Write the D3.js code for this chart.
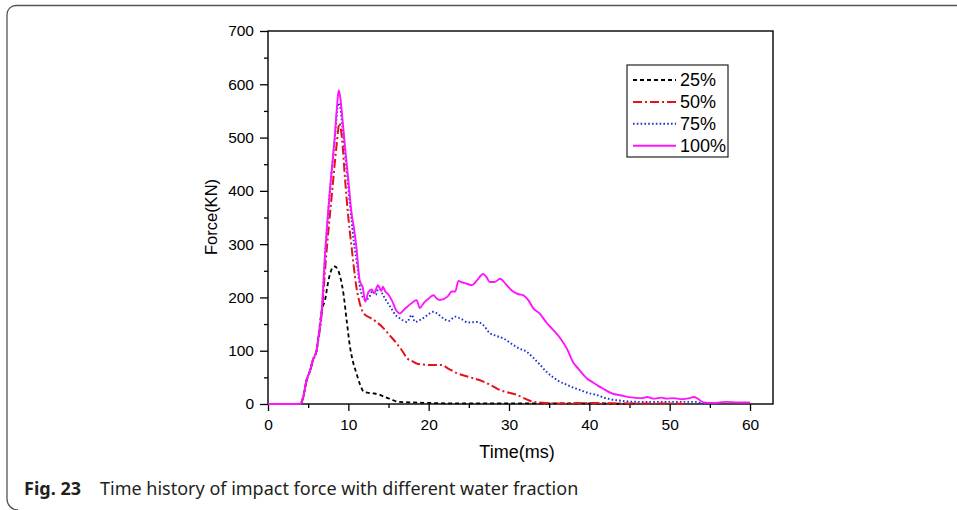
<!DOCTYPE html>
<html>
<head>
<meta charset="utf-8">
<script src="https://cdn.jsdelivr.net/npm/d3@7/dist/d3.min.js"></script>
<style>
  body { margin: 0; background: #fff; }
  svg { display: block; }
</style>
</head>
<body>
<div id="chart"></div>
<script>
// tick labels
var xTicks = [0, 10, 20, 30, 40, 50, 60];
var xMinor = [5, 15, 25, 35, 45, 55];
var yTicks = [0, 100, 200, 300, 400, 500, 600, 700];
var yMinor = [50, 150, 250, 350, 450, 550, 650];

var seriesNames = ["25%", "50%", "75%", "100%"];

// [time ms, force kN]
var s25 = [[0,0],[4.0,0],[4.4,14],[4.8,45],[5.2,61],[5.6,83],[6.05,101],[6.3,130],[6.7,176],[7.1,195],
  [7.5,230],[7.8,248],[8.1,257],[8.3,258],[8.7,252],[9.0,238],[9.4,206],[9.8,156],[10.2,108],[10.6,78],
  [11.0,58],[11.5,35],[11.9,23],[12.5,21],[13.1,20],[13.8,18],[14.4,14],[15.3,9],[16.2,4],[18,3],
  [20,2],[25,1],[30,1],[40,1],[46,0.5]];

var s50 = [[0,0],[4.0,0],[4.4,13],[4.8,43],[5.2,60],[5.6,82],[6.05,100],[6.3,124],[6.7,172],[7.2,270],
  [8.0,401],[8.5,480],[8.9,527],[9.2,500],[9.6,420],[10.0,350],[10.4,295],[11.0,220],[11.5,185],[11.9,170],
  [12.7,162],[13.5,154],[14.4,142],[15.2,128],[16.0,114],[16.7,100],[17.3,86],[18.0,80],[18.5,76],[19.3,74],
  [20.2,73],[21.6,73],[22.5,66],[23.5,58],[25.2,50],[26.8,42],[27.9,34],[28.9,26],[30.0,21],[31.0,17],
  [32.0,10],[33.0,4],[34.5,2],[36,1],[40,2],[45,1],[50,1],[52,0]];

var s75 = [[0,0],[4.0,0],[4.4,14],[4.8,45],[5.2,61],[5.6,83],[6.05,101],[6.3,126],[6.7,176],[7.1,278],
  [7.7,398],[8.3,495],[8.7,560],[8.9,565],[9.2,530],[9.6,470],[10.0,405],[10.4,345],[10.7,302],[11.1,262],
  [11.5,215],[12.1,195],[12.6,200],[13.0,212],[13.4,205],[13.8,220],[14.3,205],[15.2,183],[16.0,165],[16.4,161],
  [17.3,154],[17.9,167],[18.3,154],[19.3,161],[20.6,173],[21.2,168],[21.8,161],[22.5,156],[23.3,164],[24.0,160],
  [24.9,153],[26.0,154],[26.8,148],[27.6,133],[28.4,128],[29.3,123],[30.5,111],[31.3,104],[32.2,98],[33.0,87],
  [33.9,73],[34.7,60],[35.5,50],[36.3,42],[37.2,36],[38.1,30],[38.9,26],[39.8,21],[40.9,17],[41.8,12],
  [42.6,9],[44,6],[46.3,4],[50,4],[53.4,4],[54,1],[55,0.5]];

var s100 = [[0,0],[4.0,0],[4.4,14],[4.8,45],[5.2,61],[5.6,83],[6.05,101],[6.3,128],[6.7,178],[7.1,280],
  [7.7,400],[8.3,500],[8.6,560],[8.8,589],[9.0,575],[9.2,546],[9.6,480],[10.0,420],[10.4,358],[10.7,330],
  [11.0,295],[11.4,233],[11.8,218],[12.1,192],[12.5,210],[12.9,215],[13.2,208],[13.7,223],[14.1,212],[14.3,220],
  [14.6,211],[15.0,205],[15.4,195],[16.0,175],[16.4,170],[17.0,178],[17.6,186],[18.1,192],[18.5,195],[18.9,180],
  [19.4,190],[20.0,198],[20.6,204],[21.0,198],[21.4,195],[22.3,201],[22.9,211],[23.3,211],[23.7,231],[24.2,228],
  [24.7,226],[25.4,223],[26.0,232],[26.8,244],[27.2,238],[27.6,229],[28.2,229],[28.9,235],[29.6,225],[30.5,211],
  [31.2,206],[31.8,204],[32.4,195],[33.0,180],[33.8,170],[34.7,152],[35.5,139],[36.4,123],[37.2,104],[38.0,78],
  [38.7,65],[39.7,48],[40.5,40],[41.1,34],[41.8,28],[42.8,20],[44.0,16],[45.5,12],[46.5,11],[47.2,13],
  [48.0,10],[49.0,12],[49.6,10],[50.5,11],[51.5,9],[52.5,11],[53.0,13],[53.5,10],[54.2,3],[55.5,2],
  [57,4],[58.5,3],[60,3]];

var W = 957, H = 510;
var font = "'Liberation Sans', Arial, sans-serif";

var svg = d3.select("#chart").append("svg")
    .attr("width", W)
    .attr("height", H);

// figure frame
svg.append("path")
    .attr("d", "M957,5.5 H16 A9,9 0 0 0 7,14.5 V499 A11,11 0 0 0 18,510")
    .attr("fill", "none")
    .attr("stroke", "#555")
    .attr("stroke-width", 1.3);

var x = d3.scaleLinear().domain([0, 62.86]).range([268, 773]);
var y = d3.scaleLinear().domain([0, 700]).range([404, 31]);

// minor ticks
svg.append("g")
    .attr("transform", "translate(0,404)")
    .call(d3.axisBottom(x).tickValues(xMinor).tickSize(4).tickFormat(""))
    .call(g => g.select(".domain").remove());
svg.append("g")
    .attr("transform", "translate(268,0)")
    .call(d3.axisLeft(y).tickValues(yMinor).tickSize(4).tickFormat(""))
    .call(g => g.select(".domain").remove());

var xAxis = svg.append("g")
    .attr("transform", "translate(0,404)")
    .call(d3.axisBottom(x).tickValues(xTicks).tickSize(7).tickPadding(8).tickSizeOuter(0));
var yAxis = svg.append("g")
    .attr("transform", "translate(268,0)")
    .call(d3.axisLeft(y).tickValues(yTicks).tickSize(8).tickPadding(6).tickSizeOuter(0));

[xAxis, yAxis].forEach(function (g) {
  g.select(".domain").remove();
  g.selectAll("text")
    .attr("fill", "#000")
    .style("font-family", font)
    .style("font-size", "15.5px");
});
svg.selectAll(".tick line").attr("stroke", "#000").attr("stroke-width", 1.3);

// plot box
svg.append("rect")
    .attr("x", x(0))
    .attr("y", y(700))
    .attr("width", x(62.86) - x(0))
    .attr("height", y(0) - y(700))
    .attr("fill", "none")
    .attr("stroke", "#000")
    .attr("stroke-width", 1.4);

var styles = [
  { data: s25, color: "#000", dash: "4,3", width: 1.8 },
  { data: s50, color: "#e3131b", dash: "9,3,2,3", width: 2 },
  { data: s75, color: "#1f30d2", dash: "1.6,2.2", width: 1.9 },
  { data: s100, color: "#ff14ff", dash: null, width: 1.9 }
];

var line = d3.line()
    .x(function (d) { return x(d[0]); })
    .y(function (d) { return y(d[1]); })
    .curve(d3.curveMonotoneX);

styles.forEach(function (s) {
  svg.append("path")
    .datum(s.data)
    .attr("fill", "none")
    .attr("stroke", s.color)
    .attr("stroke-width", s.width)
    .attr("stroke-dasharray", s.dash)
    .attr("d", line);
});

// legend
var leg = svg.append("g");
leg.append("rect")
    .attr("x", 627).attr("y", 65)
    .attr("width", 101).attr("height", 92)
    .attr("fill", "#fff")
    .attr("stroke", "#222")
    .attr("stroke-width", 1.2);

styles.forEach(function (s, i) {
  var ly = 80 + i * 21.9;
  leg.append("line")
    .attr("x1", 633).attr("x2", 676)
    .attr("y1", ly).attr("y2", ly)
    .attr("stroke", s.color)
    .attr("stroke-width", s.width)
    .attr("stroke-dasharray", s.dash);
  leg.append("text")
    .attr("x", 680).attr("y", ly)
    .attr("dy", "0.36em")
    .style("font-family", font)
    .style("font-size", "18px")
    .text(seriesNames[i]);
});

// axis titles
svg.append("text")
    .attr("x", 517).attr("y", 458)
    .attr("text-anchor", "middle")
    .style("font-family", font)
    .style("font-size", "18px")
    .text("Time(ms)");

svg.append("text")
    .attr("transform", "translate(217,217) rotate(-90)")
    .attr("text-anchor", "middle")
    .style("font-family", font)
    .style("font-size", "16.5px")
    .text("Force(KN)");

// caption
var cap = svg.append("text")
    .attr("y", 495)
    .style("font-family", "'Noto Sans', 'Open Sans', sans-serif")
    .style("font-size", "18px")
    .attr("fill", "#231f20");
cap.append("tspan").attr("x", 24).style("font-weight", "bold").text("Fig. 23");
cap.append("tspan").attr("x", 100).text("Time history of impact force with different water fraction");
</script>
</body>
</html>
